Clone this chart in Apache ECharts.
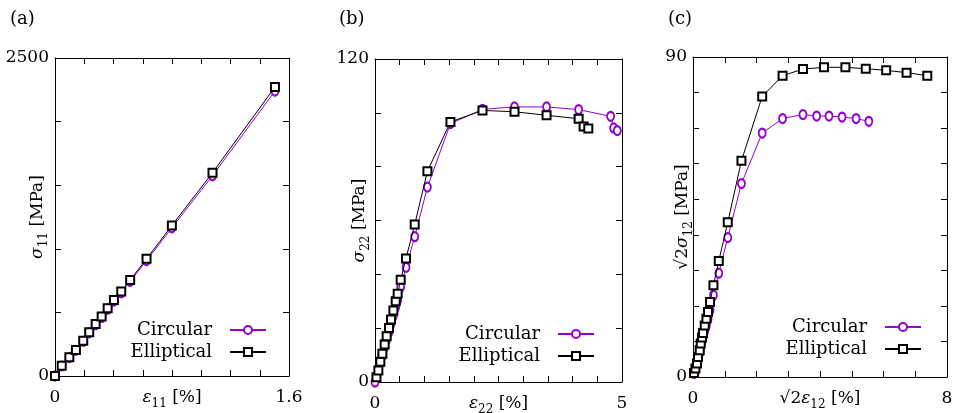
<!DOCTYPE html>
<html><head><meta charset="utf-8">
<script src="https://cdn.jsdelivr.net/npm/echarts@6/dist/echarts.min.js"></script>
<style>html,body{margin:0;padding:0;background:#fff}#c{width:957px;height:413px}</style>
</head><body><div id="c"></div>
<script>
const seriesNames = ['Circular', 'Elliptical'];
const panelLabels = ['(a)', '(b)', '(c)'];

// Panel (a): sigma11 vs eps11
const aCircular = [[0,0],[0.046,80],[0.098,145],[0.143,202],[0.193,273],[0.234,339],[0.278,403],[0.319,460],[0.360,525],[0.403,589],[0.453,654],[0.514,744],[0.626,907],[0.799,1165],[1.077,1575],[1.504,2240]];
const aElliptical = [[0,0],[0.046,81],[0.098,147],[0.143,205],[0.193,278],[0.234,344],[0.278,409],[0.319,467],[0.360,533],[0.403,598],[0.453,664],[0.514,755],[0.626,921],[0.799,1183],[1.077,1598],[1.504,2272]];
const aXTicks = ['0', '1.6'];
const aYTicks = ['0', '2500'];

// Panel (b): sigma22 vs eps22
const bCircular = [[0,0],[0.068,4.0],[0.108,7.1],[0.149,9.7],[0.196,12.9],[0.236,15.7],[0.284,18.6],[0.324,21.5],[0.372,24.6],[0.419,27.8],[0.459,30.4],[0.520,35.3],[0.628,42.6],[0.804,54.0],[1.061,72.4],[1.527,96.0],[2.176,101.3],[2.824,102.2],[3.473,102.2],[4.122,101.2],[4.770,98.7],[4.831,94.4],[4.905,93.4]];
const bElliptical = [[0.03,1.8],[0.068,4.3],[0.108,7.5],[0.149,10.5],[0.196,13.9],[0.236,17.0],[0.284,20.1],[0.324,23.2],[0.372,26.6],[0.419,30.0],[0.459,32.8],[0.520,38.0],[0.628,45.9],[0.804,58.5],[1.061,78.3],[1.527,96.6],[2.176,100.9],[2.824,100.4],[3.473,99.1],[4.122,97.8],[4.223,94.9],[4.318,94.2]];
const bXTicks = ['0', '5'];
const bYTicks = ['0', '120'];

// Panel (c): sqrt2 sigma12 vs sqrt2 eps12
const cCircular = [[0.032,1.0],[0.076,2.1],[0.126,3.35],[0.158,5.0],[0.212,6.7],[0.243,8.4],[0.284,9.9],[0.316,11.0],[0.370,12.9],[0.423,14.6],[0.474,16.3],[0.537,18.8],[0.644,23.0],[0.812,29.2],[1.095,39.2],[1.526,54.4],[2.179,68.6],[2.821,72.7],[3.463,73.8],[3.895,73.4],[4.284,73.4],[4.695,73.1],[5.137,72.7],[5.537,71.9]];
const cElliptical = [[0.032,1.1],[0.076,2.4],[0.126,3.8],[0.158,5.6],[0.212,7.5],[0.243,9.4],[0.284,11.1],[0.316,12.4],[0.370,14.5],[0.423,16.4],[0.474,18.3],[0.537,21.1],[0.644,25.8],[0.812,32.6],[1.095,43.5],[1.526,60.8],[2.179,78.9],[2.821,84.75],[3.463,86.6],[4.126,87.1],[4.800,87.1],[5.442,86.7],[6.084,86.25],[6.726,85.6],[7.379,84.75]];
const cXTicks = ['0', '8'];
const cYTicks = ['0', '90'];

const FONT = 'DejaVu Serif';
const purple = '#9400d3';
const black = '#000000';

const rich = {
  r: { fontFamily: FONT, fontSize: 17, color: '#000', lineHeight: 24 },
  i: { fontFamily: FONT, fontSize: 17, fontStyle: 'italic', color: '#000', lineHeight: 24 },
  s: { fontFamily: FONT, fontSize: 12, color: '#000', lineHeight: 14, verticalAlign: 'bottom' }
};

const panels = [
  { grid: {left: 55, top: 58, width: 234, height: 318}, x: [0, 1.6, 0.2], y: [0, 2500, 500],
    xt: aXTicks, yt: aYTicks, c: aCircular, e: aElliptical,
    xName: '{i|ε}{s|11}{r| [%]}', yName: '{i|σ}{s|11}{r| [MPa]}', yGap: 5,
    legend: {right: 685, top: 316}, label: {left: 5} },
  { grid: {left: 375, top: 59, width: 247, height: 323}, x: [0, 5, 0.5], y: [0, 120, 20],
    xt: bXTicks, yt: bYTicks, c: bCircular, e: bElliptical,
    xName: '{i|ε}{s|22}{r| [%]}', yName: '{i|σ}{s|22}{r| [MPa]}', yGap: 3,
    legend: {right: 357, top: 320}, label: {left: 334} },
  { grid: {left: 693, top: 57, width: 254, height: 320}, x: [0, 8, 1], y: [0, 90, 10],
    xt: cXTicks, yt: cYTicks, c: cCircular, e: cElliptical,
    xName: '{r|√2}{i|ε}{s|12}{r| [%]}', yName: '{r|√2}{i|σ}{s|12}{r| [MPa]}', yGap: -2,
    legend: {right: 30, top: 313}, label: {left: 663} }
];

function fmt(min, max, labels) {
  return function (v) {
    if (Math.abs(v - min) < 1e-9) return labels[0];
    if (Math.abs(v - max) < 1e-9) return labels[1];
    return '';
  };
}

const option = { backgroundColor: '#fff', animation: false, grid: [], xAxis: [], yAxis: [], series: [], legend: [], title: [] };

panels.forEach((p, k) => {
  option.grid.push(Object.assign({ containLabel: false, outerBoundsMode: 'none' }, p.grid));
  const line = { show: true, onZero: false, lineStyle: { color: '#000', width: 1 } };
  const tick = { show: true, inside: true, length: 6, lineStyle: { color: '#000', width: 1 } };
  const lbl = { fontFamily: FONT, fontSize: 17, color: '#000' };
  option.xAxis.push({
    type: 'value', gridIndex: k, position: 'bottom', min: p.x[0], max: p.x[1], interval: p.x[2],
    axisLine: line, axisTick: tick, splitLine: { show: false },
    axisLabel: Object.assign({ margin: 13, showMinLabel: true, showMaxLabel: true, formatter: fmt(p.x[0], p.x[1], p.xt) }, lbl),
    name: p.xName, nameLocation: 'middle', nameGap: 10, nameMoveOverlap: false, nameTextStyle: { rich: rich }
  });
  option.xAxis.push({
    type: 'value', gridIndex: k, position: 'top', min: p.x[0], max: p.x[1], interval: p.x[2],
    axisLine: line, axisTick: tick, splitLine: { show: false }, axisLabel: { show: false }
  });
  option.yAxis.push({
    type: 'value', gridIndex: k, position: 'left', min: p.y[0], max: p.y[1], interval: p.y[2],
    axisLine: line, axisTick: tick, splitLine: { show: false },
    axisLabel: Object.assign({ margin: 6, showMinLabel: true, showMaxLabel: true, formatter: fmt(p.y[0], p.y[1], p.yt) }, lbl),
    name: p.yName, nameLocation: 'middle', nameGap: p.yGap, nameMoveOverlap: false, nameTextStyle: { rich: rich }
  });
  option.yAxis.push({
    type: 'value', gridIndex: k, position: 'right', min: p.y[0], max: p.y[1], interval: p.y[2],
    axisLine: line, axisTick: tick, splitLine: { show: false }, axisLabel: { show: false }
  });
  option.series.push({
    name: seriesNames[0], type: 'line', xAxisIndex: 2 * k, yAxisIndex: 2 * k, data: p.c,
    symbol: 'emptyCircle', symbolSize: [7, 9], showAllSymbol: true,
    lineStyle: { color: purple, width: 1 }, itemStyle: { color: purple, borderWidth: 1 }, z: 2
  });
  option.series.push({
    name: seriesNames[1], type: 'line', xAxisIndex: 2 * k, yAxisIndex: 2 * k, data: p.e,
    symbol: 'emptyRect', symbolSize: 8, showAllSymbol: true,
    lineStyle: { color: black, width: 1 }, itemStyle: { color: black, borderWidth: 1 }, z: 3
  });
  option.legend.push({
    data: seriesNames, orient: 'vertical', align: 'right', right: p.legend.right, top: p.legend.top,
    itemWidth: 36, itemHeight: 10, itemGap: 4, selectedMode: false,
    textStyle: { fontFamily: FONT, fontSize: 18, color: '#000', padding: [0, 13, 0, 0] }
  });
  option.title.push({
    text: panelLabels[k], left: p.label.left, top: 5,
    textStyle: { fontFamily: FONT, fontSize: 18, fontWeight: 'normal', color: '#000' }
  });
});

const chart = echarts.init(document.getElementById('c'), null, { renderer: 'canvas' });
chart.setOption(option);
</script>
</body></html>
